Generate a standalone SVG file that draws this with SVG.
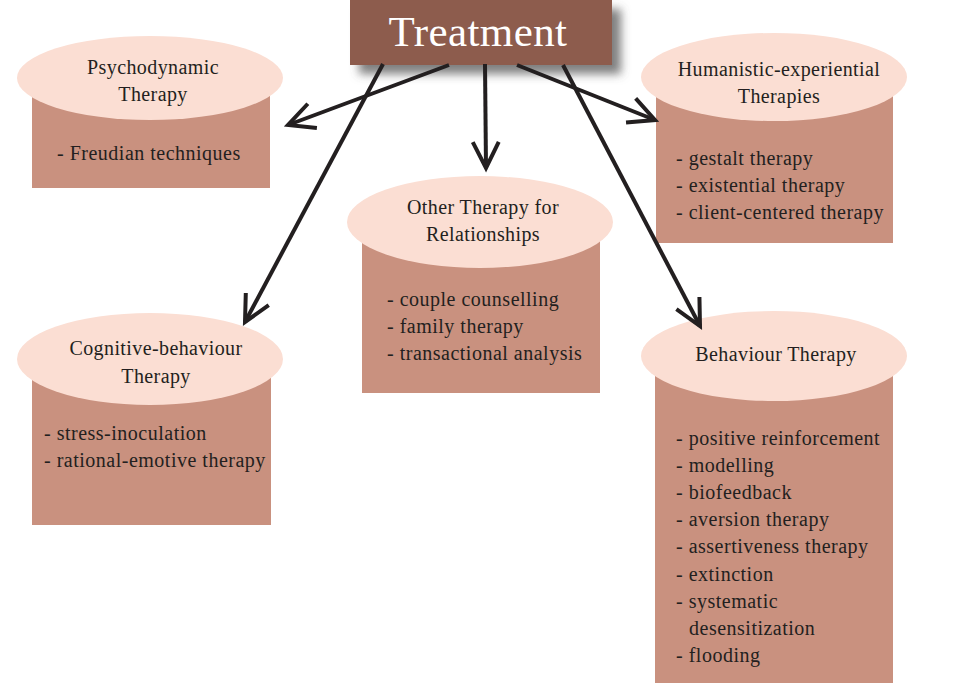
<svg xmlns="http://www.w3.org/2000/svg" width="976" height="683" viewBox="0 0 976 683">
<defs>
<filter id="sh" x="-20%" y="-30%" width="150%" height="190%">
<feDropShadow dx="9" dy="9" stdDeviation="5" flood-color="#555" flood-opacity="0.75"/>
</filter>
<marker id="ah" markerUnits="userSpaceOnUse" viewBox="-30 -18 34 36" markerWidth="34" markerHeight="36" refX="0" refY="0" orient="auto" overflow="visible">
<path d="M -26 -13 L 0 0 L -26 13" fill="none" stroke="#231F20" stroke-width="4" stroke-linejoin="miter"/>
</marker>
<style>
.box{fill:#C9917F}
.top{fill:#FBDED3}
.t{font-family:"Liberation Serif",serif;font-size:20px;letter-spacing:0.4px;fill:#231F20;text-anchor:middle}
.i{font-family:"Liberation Serif",serif;font-size:20px;letter-spacing:0.5px;fill:#231F20}
.c{fill:none;stroke:#231F20;stroke-width:4;marker-end:url(#ah)}
</style>
</defs>
<rect width="976" height="683" fill="#fff"/>
<g id="psychodynamic">
<rect class="box" x="32" y="80" width="238" height="108"/>
<ellipse class="top" cx="150" cy="78" rx="133" ry="42"/>
<text class="t" x="153" y="74">Psychodynamic</text>
<text class="t" x="153" y="101">Therapy</text>
<text class="i" x="57" y="160">- Freudian techniques</text>
</g>
<g id="other">
<rect class="box" x="362" y="222" width="238" height="171"/>
<ellipse class="top" cx="480" cy="222" rx="133" ry="46"/>
<text class="t" x="483" y="214">Other Therapy for</text>
<text class="t" x="483" y="241">Relationships</text>
<text class="i" x="387" y="306">- couple counselling</text>
<text class="i" x="387" y="333">- family therapy</text>
<text class="i" x="387" y="360">- transactional analysis</text>
</g>
<g id="humanistic">
<rect class="box" x="656" y="78" width="237" height="165"/>
<ellipse class="top" cx="774" cy="77" rx="133" ry="44"/>
<text class="t" x="779" y="76">Humanistic-experiential</text>
<text class="t" x="779" y="103">Therapies</text>
<text class="i" x="676" y="165">- gestalt therapy</text>
<text class="i" x="676" y="192">- existential therapy</text>
<text class="i" x="676" y="219">- client-centered therapy</text>
</g>
<g id="cognitive">
<rect class="box" x="32" y="360" width="239" height="165"/>
<ellipse class="top" cx="150" cy="359" rx="133" ry="46"/>
<text class="t" x="156" y="355">Cognitive-behaviour</text>
<text class="t" x="156" y="383">Therapy</text>
<text class="i" x="44" y="440">- stress-inoculation</text>
<text class="i" x="44" y="467">- rational-emotive therapy</text>
</g>
<g id="behaviour">
<rect class="box" x="655" y="356" width="238" height="327"/>
<ellipse class="top" cx="774" cy="356" rx="133" ry="45"/>
<text class="t" x="776" y="361">Behaviour Therapy</text>
<text class="i" x="676" y="445">- positive reinforcement</text>
<text class="i" x="676" y="472">- modelling</text>
<text class="i" x="676" y="499">- biofeedback</text>
<text class="i" x="676" y="526">- aversion therapy</text>
<text class="i" x="676" y="553">- assertiveness therapy</text>
<text class="i" x="676" y="581">- extinction</text>
<text class="i" x="676" y="608">- systematic</text>
<text class="i" x="689" y="635">desensitization</text>
<text class="i" x="676" y="662">- flooding</text>
</g>
<g id="treatment">
<rect x="350" y="0" width="262" height="65" fill="#8D5B4E" filter="url(#sh)"/>
<text x="478" y="46" font-family="Liberation Serif, serif" font-size="43" letter-spacing="0.4" fill="#fff" text-anchor="middle">Treatment</text>
</g>
<g id="connectors">
<path class="c" d="M 449 65 L 288 125"/>
<path class="c" d="M 383 64 L 245 322"/>
<path class="c" d="M 485 64 L 486 168"/>
<path class="c" d="M 517 65 L 655 120"/>
<path class="c" d="M 563 65 L 700 326"/>
</g>
</svg>
